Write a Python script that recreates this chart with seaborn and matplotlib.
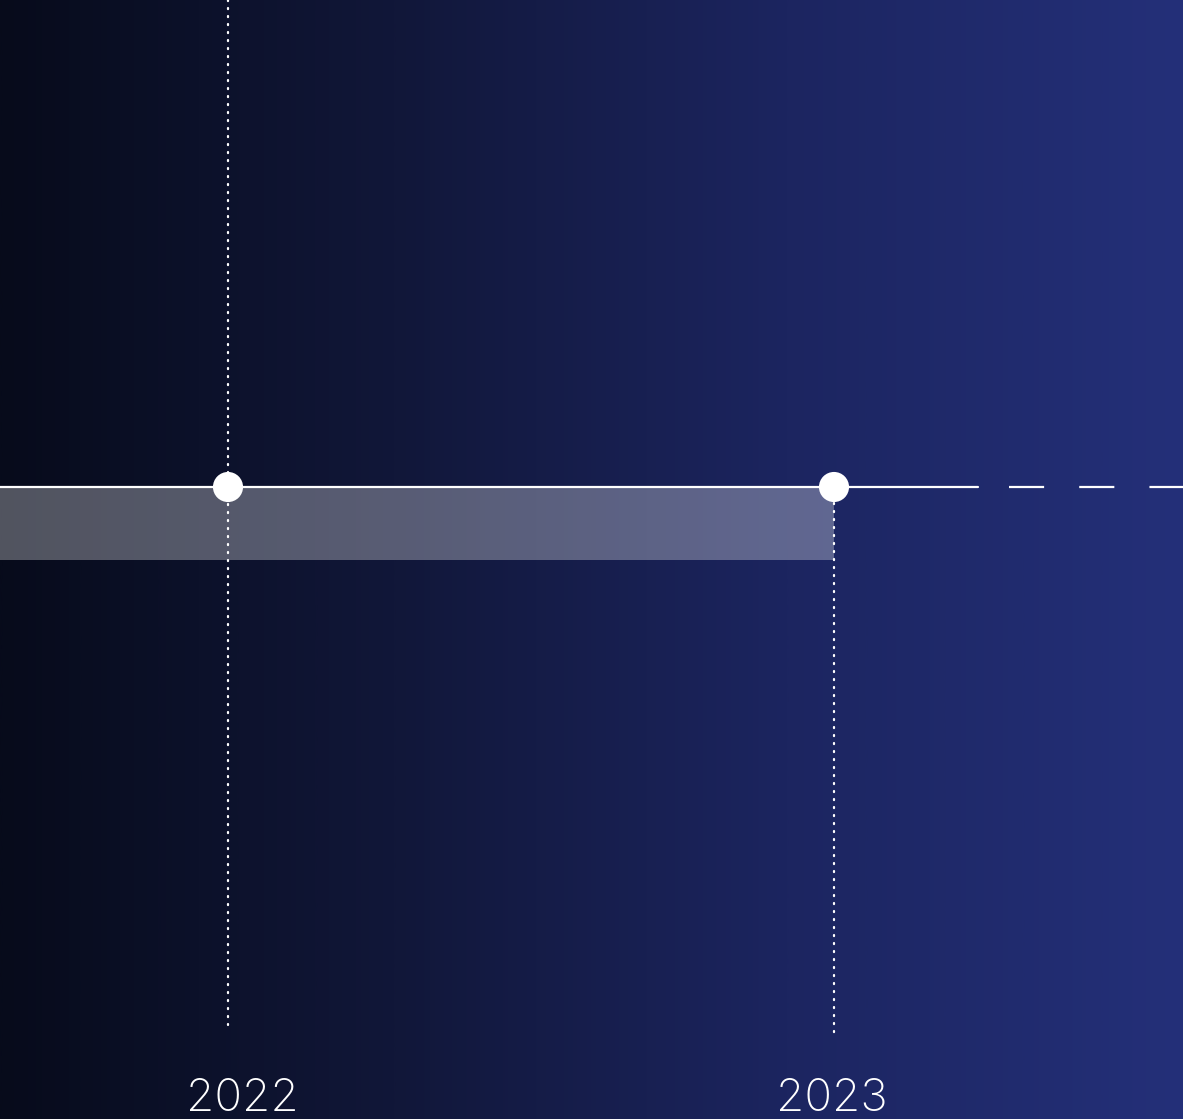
import numpy as np
import pandas as pd
import matplotlib
matplotlib.use("Agg")
import matplotlib.pyplot as plt
from matplotlib.colors import LinearSegmentedColormap
import seaborn as sns

# ---- data ----
years = [2022, 2023]
year_labels = ["2022", "2023"]
solid_end = 2023.238          # where the solid timeline ends
dash_start = 2023.288         # where the projected (dashed) part begins
band_start = 2021.62
band_end = 2023

W, H = 1183, 1119
DPI = 100
px_per_year = 606.0
x0 = 2022 - 228 / px_per_year
x1 = x0 + W / px_per_year

sns.set_theme(style="white")
plt.rcParams['font.family'] = ['Inter', 'DejaVu Sans']

fig = plt.figure(figsize=(W / DPI, H / DPI), dpi=DPI)
ax = fig.add_axes([0, 0, 1, 1])
ax.set_xlim(x0, x1)
ax.set_ylim(H, 0)
ax.axis("off")

# gradient background
cmap = LinearSegmentedColormap.from_list("bg", ["#070b1b", "#111739", "#1c2560", "#243079"])
grad = np.linspace(0, 1, 512)[None, :]
ax.imshow(grad, cmap=cmap, aspect="auto", extent=[x0, x1, H, 0], zorder=0)

line_y = 487

# translucent band
ax.fill_between([band_start - 0.1, band_end], line_y, 560, color="white", alpha=0.3, linewidth=0, zorder=1)

# vertical dotted guides
dot_style = (0, (0.5, 3.1))
v1 = ax.vlines(years[0], 0, 1025, colors="white", linewidth=1.6, linestyles=[dot_style], zorder=2)
v2 = ax.vlines(years[1], line_y, 1033, colors="white", linewidth=1.6, linestyles=[dot_style], zorder=2)
for v in (v1, v2):
    v.set_capstyle("round")

# timeline
solid = pd.DataFrame({"x": [x0 - 0.1, solid_end], "y": [line_y, line_y]})
sns.lineplot(data=solid, x="x", y="y", ax=ax, color="white", linewidth=1.6, zorder=3)
dashed = pd.DataFrame({"x": [dash_start, x1 + 0.1], "y": [line_y, line_y]})
sns.lineplot(data=dashed, x="x", y="y", ax=ax, color="white", linewidth=1.6,
             linestyle=(0, (15.8, 15.8)), zorder=3)

# milestone dots
pts = pd.DataFrame({"x": years, "y": [line_y] * len(years)})
sns.scatterplot(data=pts, x="x", y="y", ax=ax, s=470, color="white", edgecolor="none", zorder=4)

# labels
for yr, lab in zip(years, year_labels):
    ax.text(yr + (14 if yr == 2022 else -2) / px_per_year, 1099, lab, color="white",
            fontsize=33, fontweight="light", ha="center", va="center", zorder=5)

ax.set_xlim(x0, x1)
ax.set_ylim(H, 0)
ax.set_xlabel("")
ax.set_ylabel("")
fig.savefig("out.png", dpi=DPI)
